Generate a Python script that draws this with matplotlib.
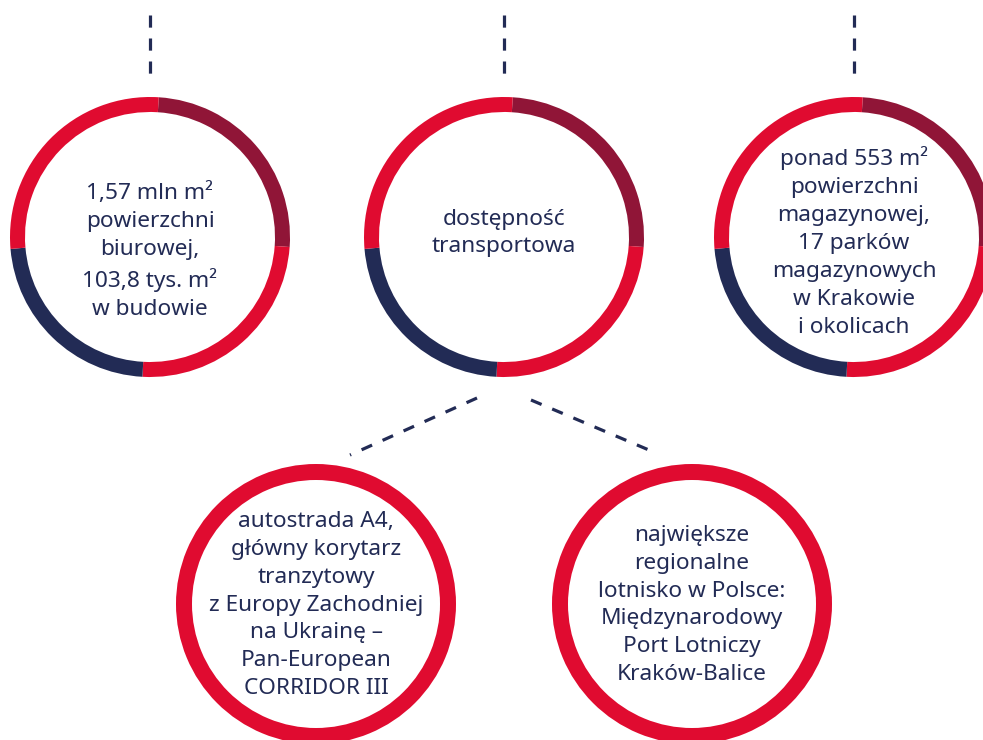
import matplotlib
matplotlib.use("Agg")
import matplotlib.pyplot as plt

W, H = 983, 740
RED = "#E00B30"
DARK = "#901537"
NAVY = "#222B55"

# segment sizes (degrees) of the three top rings, clockwise from top
top_segments = [90.5, 89.0, 82.0, 98.5]
top_colors = [DARK, RED, NAVY, RED]
top_texts = [
    "1,57 mln m²\npowierzchni\nbiurowej,\n103,8 tys. m²\nw budowie",
    "dostępność\ntransportowa",
    "ponad 553 m²\npowierzchni\nmagazynowej,\n17 parków\nmagazynowych\nw Krakowie\ni okolicach",
]
bottom_texts = [
    "autostrada A4,\ngłówny korytarz\ntranzytowy\nz Europy Zachodniej\nna Ukrainę –\nPan-European\nCORRIDOR III",
    "największe\nregionalne\nlotnisko w Polsce:\nMiędzynarodowy\nPort Lotniczy\nKraków-Balice",
]

# layout (pixel coordinates, y measured from top)
top_centers = [(150, 237), (504, 237), (854, 237)]
top_text_y = [251, 233, 242]
bottom_centers = [(316, 604), (692, 604)]
bottom_text_y = [605, 605]
R = 140
RING_W = 15

fig = plt.figure(figsize=(W / 100, H / 100), dpi=100)
ax = fig.add_axes([0, 0, 1, 1])

def fy(y):
    return H - y

font = ["Noto Sans", "DejaVu Sans"]
fs = 16.3
ls = 1.43

for (cx, cy), ty, txt in zip(top_centers, top_text_y, top_texts):
    ax.pie(top_segments, colors=top_colors, radius=R, center=(cx, fy(cy)),
           startangle=90 - 3.6, counterclock=False,
           wedgeprops=dict(width=RING_W, linewidth=0), frame=True)
    ax.text(cx, fy(ty), txt, ha="center", va="center", color=NAVY,
            fontsize=fs, family=font, linespacing=ls)
    # dashed connector above
    ax.plot([cx, cx], [fy(15), fy(80)], color=NAVY, lw=2.3,
            dashes=(3.8, 3.4), solid_capstyle="butt")

for (cx, cy), ty, txt in zip(bottom_centers, bottom_text_y, bottom_texts):
    ax.pie([1], colors=[RED], radius=R, center=(cx, fy(cy)),
           wedgeprops=dict(width=RING_W + 1, linewidth=0), frame=True)
    ax.text(cx, fy(ty), txt, ha="center", va="center", color=NAVY,
            fontsize=fs, family=font, linespacing=ls)

# diagonal connectors
ax.plot([477, 350], [fy(398), fy(455)], color=NAVY, lw=2.3, dashes=(3.6, 3.6))
ax.plot([531, 656], [fy(400), fy(453)], color=NAVY, lw=2.3, dashes=(3.6, 3.6))

ax.set_xlim(0, W)
ax.set_ylim(0, H)
ax.set_aspect("equal")
ax.axis("off")
fig.savefig("out.png", dpi=100, facecolor="white")
